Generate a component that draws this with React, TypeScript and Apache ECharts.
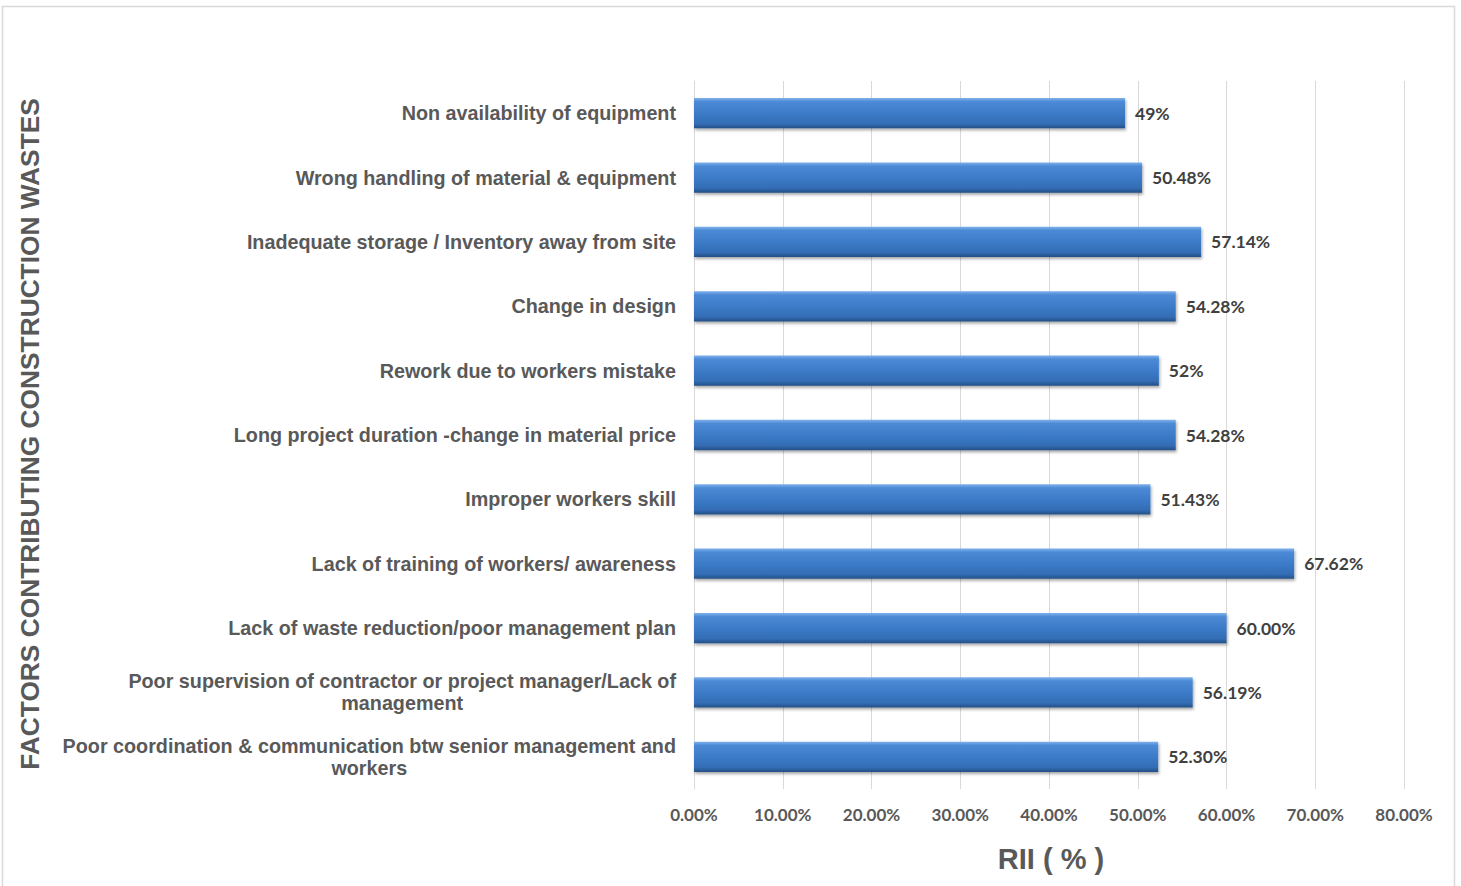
import React, { useEffect, useRef } from "react";
import * as echarts from "echarts";

const categories: string[] = [
  "Non availability of equipment",
  "Wrong handling of material & equipment",
  "Inadequate storage / Inventory away from site",
  "Change in design",
  "Rework due to workers mistake",
  "Long project duration -change in material price",
  "Improper workers skill",
  "Lack of training of workers/ awareness",
  "Lack of waste reduction/poor management plan",
  "Poor supervision of contractor or project manager/Lack of\nmanagement",
  "Poor coordination & communication btw senior management and\nworkers",
];

const riiValues: number[] = [48.57, 50.48, 57.14, 54.28, 52.38, 54.28, 51.43, 67.62, 60.0, 56.19, 52.3];
const riiLabels: string[] = ["49%", "50.48%", "57.14%", "54.28%", "52%", "54.28%", "51.43%", "67.62%", "60.00%", "56.19%", "52.30%"];

const xTicks = { min: 0, max: 80, interval: 10 };

const yTitle = "FACTORS CONTRIBUTING CONSTRUCTION WASTES";
const xTitle = "RII ( % )";

export default function App() {
  const ref = useRef<HTMLDivElement>(null);
  useEffect(() => {
    if (!ref.current) return;
    const chart = echarts.init(ref.current, null, { renderer: "svg" });
    const gray = "#595959";
    chart.setOption({
      animation: false,
      backgroundColor: "#ffffff",
      grid: { left: 694, right: 57, top: 81, bottom: 97, containLabel: false },
      xAxis: {
        type: "value",
        min: xTicks.min,
        max: xTicks.max,
        interval: xTicks.interval,
        axisLine: { show: false },
        axisTick: { show: false },
        splitLine: { show: true, lineStyle: { color: "#d9d9d9", width: 1 } },
        axisLabel: {
          formatter: (v: number) => v.toFixed(2) + "%",
          color: gray,
          fontFamily: "Lato",
          fontWeight: "bold",
          fontSize: 17,
          margin: 17,
        },
      },
      yAxis: {
        type: "category",
        data: categories,
        inverse: true,
        axisLine: { show: true, lineStyle: { color: "#d9d9d9" } },
        axisTick: { show: false },
        axisLabel: {
          margin: 18,
          formatter: (v: string) => v.split("\n").map((l) => `{c|${l}}`).join("\n"),
          rich: {
            c: {
              align: "center",
              color: gray,
              fontFamily: "Liberation Sans",
              fontWeight: "bold",
              fontSize: 19.75,
              lineHeight: 22,
            },
          },
        },
      },
      series: [
        {
          type: "bar",
          data: riiValues,
          barCategoryGap: "53%",
          itemStyle: {
            color: new echarts.graphic.LinearGradient(0, 0, 0, 1, [
              { offset: 0, color: "#7fb2ec" },
              { offset: 0.12, color: "#4d8ad6" },
              { offset: 0.5, color: "#3c7bc8" },
              { offset: 0.85, color: "#336db5" },
              { offset: 1, color: "#244f85" },
            ]),
            shadowColor: "rgba(0,0,0,0.35)",
            shadowBlur: 3,
            shadowOffsetX: 1,
            shadowOffsetY: 2,
          },
          label: {
            show: true,
            position: "right",
            distance: 10,
            formatter: (p: any) => riiLabels[p.dataIndex],
            color: "#404040",
            fontFamily: "Lato",
            fontWeight: "bold",
            fontSize: 17.5,
          },
        },
      ],
      graphic: [
        {
          type: "rect",
          shape: { x: 2.5, y: 6.5, width: 1452, height: 884 },
          style: { fill: "none", stroke: "#d9d9d9", lineWidth: 1.5 },
          silent: true,
        },
        {
          type: "text",
          x: 30,
          y: 434,
          rotation: Math.PI / 2,
          style: {
            text: yTitle,
            fill: gray,
            font: "bold 26.3px 'Liberation Sans'",
            align: "center",
            verticalAlign: "middle",
          },
        },
        {
          type: "text",
          x: 1051,
          y: 859,
          style: {
            text: xTitle,
            fill: gray,
            font: "bold 29px 'Liberation Sans'",
            align: "center",
            verticalAlign: "middle",
          },
        },
      ],
    });
    return () => chart.dispose();
  }, []);
  return (
    <div
      ref={ref}
      style={{ position: "absolute", left: 0, top: 0, width: 1461, height: 886 }}
    />
  );
}
